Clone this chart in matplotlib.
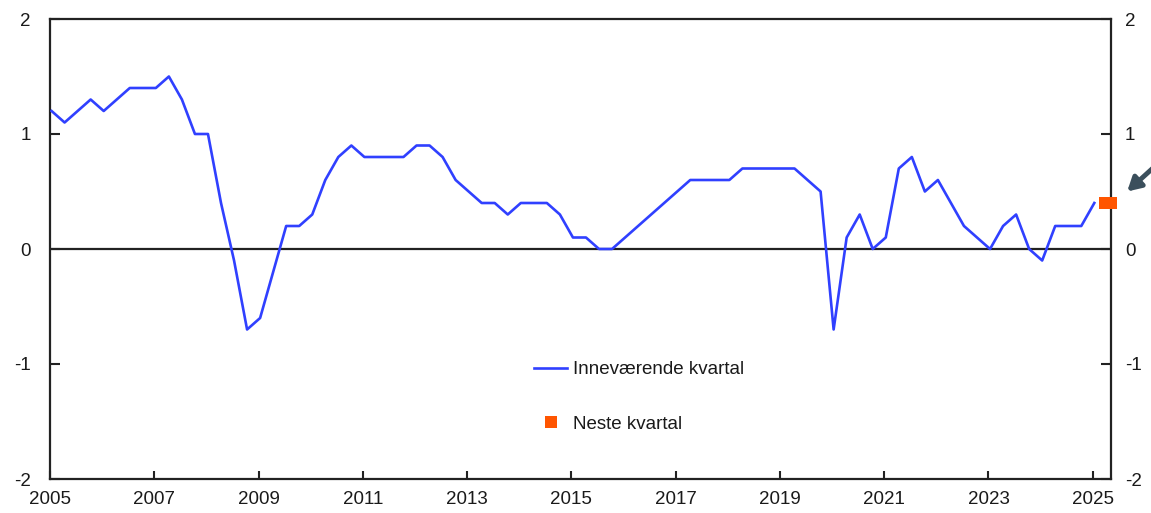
import numpy as np
import matplotlib
matplotlib.use("Agg")
import matplotlib.pyplot as plt
from matplotlib.lines import Line2D

plt.rcParams['font.family'] = ['Liberation Sans', 'DejaVu Sans']
plt.rcParams['axes.unicode_minus'] = False

# kvartalsvise verdier, 2005K1 - 2025K1
innevaerende = [1.2, 1.1, 1.2, 1.3, 1.2, 1.3, 1.4, 1.4, 1.4, 1.5, 1.3, 1.0, 1.0,
                0.4, -0.1, -0.7, -0.6, -0.2, 0.2, 0.2, 0.3,
                0.6, 0.8, 0.9, 0.8, 0.8, 0.8, 0.8, 0.9, 0.9, 0.8,
                0.6, 0.5, 0.4, 0.4, 0.3, 0.4, 0.4, 0.4, 0.3, 0.1,
                0.1, 0.0, 0.0, 0.1, 0.2, 0.3, 0.4, 0.5, 0.6, 0.6,
                0.6, 0.6, 0.7, 0.7, 0.7, 0.7, 0.7, 0.6, 0.5, -0.7,
                0.1, 0.3, 0.0, 0.1, 0.7, 0.8, 0.5, 0.6, 0.4, 0.2,
                0.1, 0.0, 0.2, 0.3, 0.0, -0.1, 0.2, 0.2, 0.2, 0.4]
neste = [0.4]          # 2025K2
start_year = 2005
xticks = list(range(2005, 2026, 2))
yticks = [-2, -1, 0, 1, 2]

blue = '#3040ff'
orange = '#ff5500'
txt = '#1a1a1a'

n = len(innevaerende)
x_inn = start_year + np.arange(n) / 4 + 0.03
x_neste = start_year + np.arange(n, n + len(neste)) / 4 + 0.05

# flat rektangel som markør
rect = [(-0.75, -0.5), (0.75, -0.5), (0.75, 0.5), (-0.75, 0.5), (-0.75, -0.5)]

fig = plt.figure(figsize=(11.51, 5.13), dpi=100)
ax = fig.add_axes([50 / 1151, 34 / 513, 1061 / 1151, 460 / 513])

ax.axhline(0, color='#222222', lw=1.6, zorder=1)
ax.plot(x_inn, innevaerende, color=blue, lw=1.9, zorder=3)
ax.plot(x_neste, neste, ls='none', marker=rect, ms=12.5, color=orange,
        markeredgewidth=0, clip_on=False, zorder=4)

ax.set_xlim(2005, 2025.35)
ax.set_ylim(-2, 2)
ax.set_xticks(xticks)
ax.set_yticks(yticks)

for s in ax.spines.values():
    s.set_linewidth(1.6)
    s.set_color('#222222')

ax.tick_params(axis='x', direction='in', length=6, width=1.5, pad=9,
               labelsize=13.5, labelcolor=txt, color='#222222')
ax.tick_params(axis='y', direction='in', length=7, width=1.5, pad=14,
               labelsize=13.5, labelcolor=txt, color='#222222')

ax2 = ax.twinx()
ax2.set_ylim(-2, 2)
ax2.set_yticks(yticks)
ax2.tick_params(axis='y', direction='in', length=7, width=1.5, pad=10,
                labelsize=13.5, labelcolor=txt, color='#222222')
for s in ax2.spines.values():
    s.set_visible(False)

handles = [Line2D([], [], color=blue, lw=1.9),
           Line2D([], [], ls='none', marker='s', ms=9, color=orange, markeredgewidth=0)]
ax.legend(handles, ['Inneværende kvartal', 'Neste kvartal'], frameon=False,
          loc='upper left', bbox_to_anchor=(0.447, 0.277), borderpad=0,
          labelspacing=2.0, handlelength=1.8, handletextpad=0.3,
          fontsize=13.5, labelcolor=txt)

ax.annotate('', xy=(2025.66, 0.50), xytext=(22, 20), textcoords='offset points',
            annotation_clip=False,
            arrowprops=dict(arrowstyle='-|>,head_length=0.8,head_width=0.45',
                            color='#3b4f5c', lw=3.5, shrinkA=0, shrinkB=0))

fig.savefig('out.png', dpi=100)
